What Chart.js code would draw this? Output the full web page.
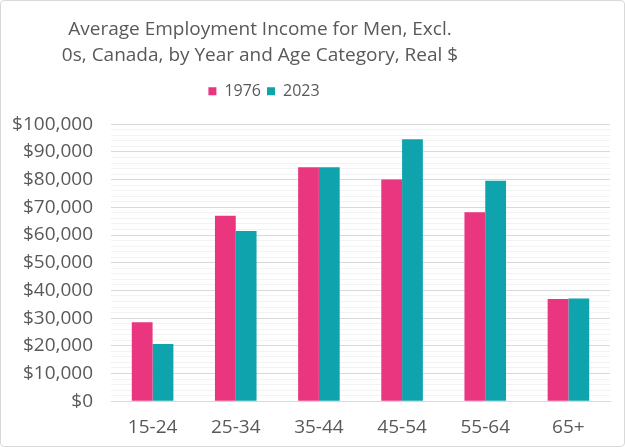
<!DOCTYPE html>
<html>
<head>
<meta charset="utf-8">
<script src="https://cdn.jsdelivr.net/npm/chart.js@4"></script>
<style>
  html, body { margin: 0; padding: 0; background: #fff; }
  #wrap { position: absolute; left: 0; top: 0; width: 623px; height: 445px; border: 1px solid #d9d9d9; border-radius: 4px; }
</style>
</head>
<body>
<div id="wrap"><canvas id="chart"></canvas></div>
<script>
const categories = ["15-24", "25-34", "35-44", "45-54", "55-64", "65+"];
const income1976 = [28500, 67000, 84500, 80100, 68200, 36900];
const income2023 = [20700, 61500, 84500, 94600, 79600, 37100];
const titleLines = ["Average Employment Income for Men, Excl.", "0s, Canada, by Year and Age Category, Real $"];

Chart.defaults.font.family = "'Open Sans', Roboto, sans-serif";
Chart.defaults.color = "#595959";

// title and legend sit left of the canvas centre in the original
const headerShift = {
    id: "headerShift",
    beforeInit(chart) {
        const fit = chart.legend.fit;
        chart.legend.fit = function () {
            fit.call(this);
            this.height += 15;
        };
    },
    afterLayout(chart) {
        chart.titleBlock.right -= 100;
        chart.legend.right -= 92;
    }
};

const ctx = document.getElementById("chart").getContext("2d");
const chart = new Chart(ctx, {
    type: "bar",
    data: {
        labels: categories,
        datasets: [
            { label: "1976", data: income1976, backgroundColor: "#E9367F" },
            { label: "2023", data: income2023, backgroundColor: "#0FA3AE" }
        ]
    },
    options: {
        responsive: true,
        maintainAspectRatio: false,
        animation: false,
        layout: { padding: { left: 9, right: 14, top: 8, bottom: 0 } },
        datasets: { bar: { categoryPercentage: 0.5, barPercentage: 1.0 } },
        plugins: {
            title: {
                display: true,
                text: titleLines,
                font: { size: 19, weight: "normal", lineHeight: 1.35 },
                color: "#595959",
                padding: { top: 8, bottom: 9 }
            },
            legend: {
                display: true,
                labels: { boxWidth: 8, boxHeight: 8, font: { size: 16 }, color: "#595959", padding: 6 }
            },
            tooltip: { enabled: false }
        },
        scales: {
            x: {
                grid: { display: false },
                border: { color: "#d9d9d9" },
                ticks: { font: { size: 19 }, color: "#595959", padding: 7 }
            },
            y: {
                min: 0,
                max: 100000,
                border: { display: false },
                afterFit: scale => { scale.width = 101; },
                grid: {
                    color: c => (c.tick && c.tick.value % 10000 === 0) ? "#d9d9d9" : "#f2f2f2",
                    lineWidth: 1,
                    drawTicks: false
                },
                ticks: {
                    stepSize: 2000,
                    autoSkip: false,
                    font: { size: 19 },
                    color: "#595959",
                    padding: 18,
                    callback: v => v % 10000 === 0 ? "$" + v.toLocaleString("en-US") : ""
                }
            }
        }
    },
    plugins: [headerShift]
});
</script>
</body>
</html>
